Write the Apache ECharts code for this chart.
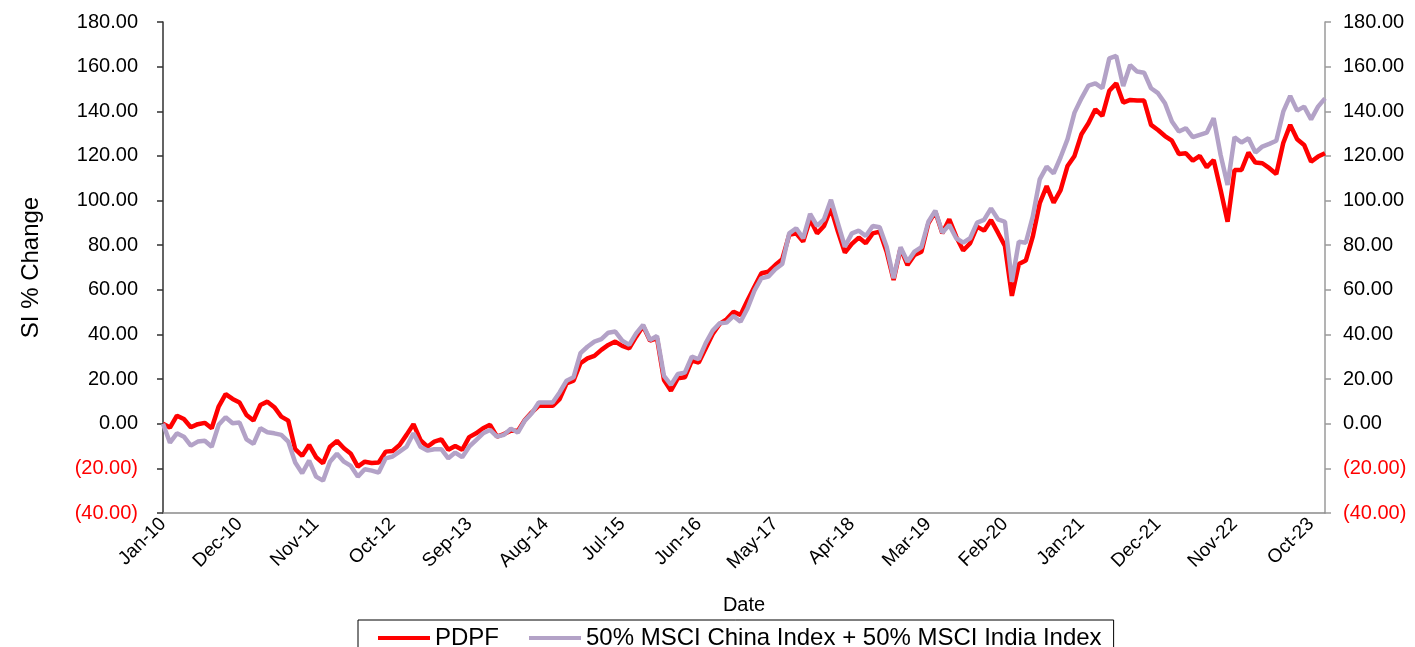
<!DOCTYPE html>
<html><head><meta charset="utf-8">
<script src="https://cdn.jsdelivr.net/npm/echarts@6/dist/echarts.min.js"></script>
<style>html,body{margin:0;padding:0;background:#fff}#c{width:1415px;height:647px}</style>
</head><body><div id="c"></div>
<script>
const monthNames = ['Jan','Feb','Mar','Apr','May','Jun','Jul','Aug','Sep','Oct','Nov','Dec'];
const startYear = 2010, monthCount = 168;
const categories = [];
for (let i = 0; i < monthCount; i++) {
  const y = startYear + Math.floor(i / 12);
  categories.push(monthNames[i % 12] + '-' + String(y % 100).padStart(2, '0'));
}
const seriesNames = ['PDPF', '50% MSCI China Index + 50% MSCI India Index'];
const pdpf = [
0, -1.7, 3.6, 2.1, -1.6, -0.2, 0.4, -2.0, 7.7, 13.3,
11.1, 9.5, 3.9, 1.4, 8.4, 9.9, 7.4, 3.2, 1.4, -11.4,
-14.4, -9.5, -15.0, -17.7, -10.3, -7.7, -11.0, -13.5, -19.2, -17.0,
-17.6, -17.4, -12.5, -12.2, -9.5, -5.0, -0.2, -7.3, -10.3, -8.0,
-7.0, -11.7, -10.0, -11.7, -6.0, -4.3, -2.0, -0.5, -5.8, -4.6,
-3.1, -3.2, 1.7, 5.1, 8.0, 8.0, 8.0, 11.0, 18.1, 19.3,
27.1, 29.3, 30.4, 33.1, 35.3, 36.8, 34.9, 33.8, 39.0, 43.8,
37.2, 38.3, 19.6, 14.8, 20.4, 20.8, 28.3, 27.4, 33.8, 40.2,
44.7, 46.8, 50.2, 48.7, 55.2, 61.4, 67.4, 68.1, 71.1, 73.7,
84.6, 85.3, 81.6, 91.6, 85.3, 88.6, 96.5, 86.1, 76.7, 80.6,
83.4, 80.9, 85.3, 86.1, 77.1, 64.4, 78.6, 71.1, 75.6, 77.1,
89.8, 95.0, 85.3, 91.6, 83.8, 77.6, 80.9, 88.3, 86.5, 91.3,
85.6, 79.7, 57.3, 71.6, 73.1, 83.8, 98.8, 106.5, 99.1, 104.7,
115.5, 120.0, 129.7, 134.6, 140.9, 137.9, 149.2, 152.5, 143.9, 145.1,
144.8, 144.8, 133.9, 131.6, 128.9, 126.8, 120.9, 121.2, 117.9, 120.0,
114.9, 118.2, 104.7, 90.5, 113.7, 113.7, 121.5, 117.0, 116.7, 114.5,
111.9, 125.8, 133.9, 127.5, 124.9, 117.4, 119.7, 121.2
];
const benchmark = [
0, -8.5, -4.3, -5.8, -9.8, -8.0, -7.6, -10.3, -0.5, 2.9,
0.2, 0.5, -7.0, -9.0, -2.0, -3.8, -4.3, -5.0, -8.0, -17.4,
-22.2, -16.5, -23.7, -25.5, -17.0, -13.5, -17.0, -18.9, -23.7, -20.4,
-21.0, -21.9, -15.5, -14.7, -12.5, -10.3, -4.3, -10.3, -12.0, -11.4,
-11.4, -15.5, -12.9, -15.0, -10.3, -7.3, -4.3, -2.8, -5.8, -5.0,
-2.2, -4.0, 1.4, 4.7, 9.5, 9.5, 9.5, 14.0, 19.3, 20.8,
31.6, 34.5, 36.8, 37.9, 40.8, 41.3, 37.2, 35.3, 40.5, 44.3,
37.5, 39.3, 21.4, 17.4, 22.3, 22.9, 30.1, 28.9, 36.1, 41.7,
45.0, 45.3, 48.3, 45.7, 51.7, 59.6, 65.2, 65.9, 69.2, 71.6,
85.3, 87.6, 83.1, 94.0, 88.6, 91.6, 100.3, 89.8, 79.3, 85.3,
86.5, 84.1, 88.6, 88.0, 79.3, 65.2, 79.1, 72.6, 77.1, 79.1,
90.5, 95.5, 85.6, 89.1, 83.1, 81.1, 83.1, 90.1, 91.3, 96.5,
91.6, 90.5, 63.6, 81.6, 81.1, 92.8, 109.5, 115.2, 112.2, 119.4,
127.5, 139.4, 145.8, 151.5, 152.5, 150.3, 163.7, 164.8, 151.3, 160.7,
157.8, 157.3, 150.3, 148.1, 143.6, 135.4, 130.9, 132.4, 128.4, 129.4,
130.4, 136.9, 120.4, 107.0, 128.4, 126.0, 127.9, 121.5, 124.2, 125.4,
126.8, 139.8, 146.9, 140.3, 142.1, 136.4, 142.1, 145.8
];
const yMin = -40, yMax = 180, yStep = 20;
const FONT = 'Liberation Sans, Arial, sans-serif';

function fmt(v) {
  return v < 0 ? '{n|(' + Math.abs(v).toFixed(2) + ')}' : v.toFixed(2);
}
function yAxisDef(pos, lineColor, margin) {
  return {
    type: 'value', position: pos, min: yMin, max: yMax, interval: yStep,
    splitLine: { show: false },
    axisLine: { show: true, onZero: false, lineStyle: { color: lineColor, width: 1.5 } },
    axisTick: { show: true, length: 6, lineStyle: { color: lineColor, width: 1.5 } },
    axisLabel: {
      margin: margin, formatter: fmt, color: '#000', fontSize: 20, fontFamily: FONT,
      rich: { n: { color: '#FF0000', fontSize: 20, fontFamily: FONT } }
    }
  };
}
const chart = echarts.init(document.getElementById('c'), null, { renderer: 'canvas' });
chart.setOption({
  animation: false,
  backgroundColor: '#fff',
  grid: { left: 163, right: 90, top: 22, bottom: 134, containLabel: false },
  legend: {
    data: seriesNames, top: 620, left: 358, icon: 'rect',
    borderColor: '#000', borderWidth: 1,
    padding: [6, 12, 10, 20], itemGap: 30, itemWidth: 52, itemHeight: 4,
    textStyle: { fontSize: 24, fontFamily: FONT, color: '#000' }
  },
  xAxis: {
    type: 'category', data: categories, boundaryGap: false,
    name: 'Date', nameLocation: 'middle', nameGap: 82,
    nameTextStyle: { fontSize: 20, fontFamily: FONT, color: '#000' },
    axisLine: { onZero: false, lineStyle: { color: '#8a8a8a', width: 1.5 } },
    axisTick: { show: false },
    axisLabel: { interval: 10, rotate: 45, margin: 8, fontSize: 19, fontFamily: FONT, color: '#000' }
  },
  yAxis: [
    Object.assign(yAxisDef('left', '#303030', 25), {
      name: 'SI % Change', nameLocation: 'middle', nameGap: 120, nameRotate: 90,
      nameTextStyle: { fontSize: 24, fontFamily: FONT, color: '#000' }
    }),
    yAxisDef('right', '#9a9a9a', 18)
  ],
  series: [
    { name: seriesNames[0], type: 'line', data: pdpf, symbol: 'none', yAxisIndex: 0,
      lineStyle: { color: '#FF0000', width: 4.5 }, itemStyle: { color: '#FF0000' } },
    { name: seriesNames[1], type: 'line', data: benchmark, symbol: 'none', yAxisIndex: 0,
      lineStyle: { color: '#B3A2C7', width: 4.5 }, itemStyle: { color: '#B3A2C7' } }
  ]
});
</script>
</body></html>
